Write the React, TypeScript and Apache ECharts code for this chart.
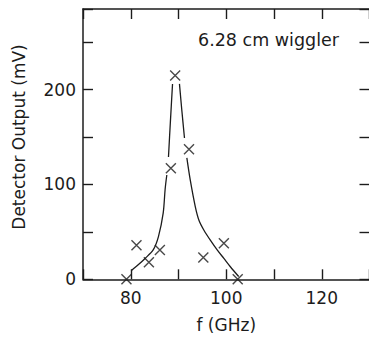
import React, { useEffect, useRef } from "react";
import * as echarts from "echarts";

// Measured points: [frequency (GHz), detector output (mV)]
const measured: [number, number][] = [
  [79.1, 0],
  [81.2, 36],
  [83.8, 18],
  [86.1, 31],
  [88.4, 117],
  [89.3, 215],
  [92.2, 137],
  [95.2, 23],
  [99.5, 38],
  [102.4, 0],
];

// Hand-drawn fit curve, in pieces (gaps where it passes the markers)
const curveLeftLow: [number, number][] = [
  [80.1, 9], [81.5, 15], [83.0, 22], [84.7, 31], [85.8, 45],
  [86.8, 70], [87.2, 95], [87.55, 110],
];
const curveLeftHigh: [number, number][] = [
  [87.9, 129], [88.3, 166], [88.75, 206],
];
const curveRightHigh: [number, number][] = [
  [90.2, 206], [90.7, 178], [91.25, 149],
];
const curveRightLow: [number, number][] = [
  [91.75, 128], [92.45, 105], [93.5, 77], [94.3, 62], [95.3, 52],
  [96.7, 41], [98.1, 31], [99.5, 22], [100.9, 13], [102.6, 3],
];

const xTickLabels = [80, 100, 120];
const yTickLabels = [0, 100, 200];

const INK = "#1c1c1c";
const FONT = "DejaVu Sans";

export default function App() {
  const ref = useRef<HTMLDivElement>(null);
  useEffect(() => {
    if (!ref.current) return;
    document.body.style.margin = "0";
    const chart = echarts.init(ref.current, undefined, { renderer: "svg" });
    const axisCommon = {
      type: "value" as const,
      gridIndex: 0,
      splitLine: { show: false },
      axisLine: { show: true, onZero: false, lineStyle: { color: INK, width: 1.5 } },
      axisTick: { show: true, inside: true, length: 10, lineStyle: { color: INK, width: 1.4 } },
    };
    const lineSeries = (data: [number, number][]) => ({
      type: "line",
      data,
      xAxisIndex: 0,
      yAxisIndex: 0,
      showSymbol: false,
      smooth: 0.3,
      lineStyle: { color: INK, width: 1.3 },
      silent: true,
    });
    chart.setOption({
      animation: false,
      backgroundColor: "#ffffff",
      grid: {
        left: 83,
        top: 9,
        right: -0.5,
        bottom: 57.7,
        containLabel: false,
        outerBoundsMode: "none",
      },
      xAxis: [
        {
          ...axisCommon,
          position: "bottom",
          min: 70,
          max: 130,
          interval: 10,
          name: "f (GHz)",
          nameLocation: "middle",
          nameGap: 37,
          nameTextStyle: { color: INK, fontFamily: FONT, fontSize: 17 },
          axisLabel: {
            color: INK,
            fontFamily: FONT,
            fontSize: 17,
            margin: 10,
            formatter: (v: number) => (xTickLabels.includes(v) ? String(v) : ""),
          },
        },
        {
          ...axisCommon,
          position: "top",
          min: 70,
          max: 130,
          interval: 10,
          axisLabel: { show: false },
        },
      ],
      yAxis: [
        {
          ...axisCommon,
          position: "left",
          min: 0,
          max: 285,
          interval: 50,
          axisLabel: {
            color: INK,
            fontFamily: FONT,
            fontSize: 17,
            margin: 7,
            formatter: (v: number) => (yTickLabels.includes(v) ? String(v) : ""),
          },
        },
        {
          ...axisCommon,
          position: "right",
          min: 0,
          max: 285,
          interval: 50,
          axisLabel: { show: false },
        },
      ],
      graphic: [
        {
          type: "text",
          left: 198,
          top: 31,
          style: { text: "6.28 cm wiggler", fill: INK, font: `17.5px "${FONT}"` },
        },
        {
          type: "text",
          x: 19,
          y: 137,
          rotation: Math.PI / 2,
          style: {
            text: "Detector Output (mV)",
            fill: INK,
            font: `17px "${FONT}"`,
            align: "center",
            verticalAlign: "middle",
          },
        },
      ],
      series: [
        lineSeries(curveLeftLow),
        lineSeries(curveLeftHigh),
        lineSeries(curveRightHigh),
        lineSeries(curveRightLow),
        {
          type: "scatter",
          data: measured,
          xAxisIndex: 0,
          yAxisIndex: 0,
          symbol: "path://M0,0L10,10M10,0L0,10",
          symbolSize: 10,
          itemStyle: { color: "none", borderColor: INK, borderWidth: 1.4 },
          silent: true,
        },
        {
          type: "line",
          data: [],
          xAxisIndex: 1,
          yAxisIndex: 1,
          silent: true,
        },
      ],
    });
    return () => chart.dispose();
  }, []);
  return (
    <div
      ref={ref}
      style={{ position: "absolute", left: 0, top: 0, width: 369, height: 337 }}
    />
  );
}
